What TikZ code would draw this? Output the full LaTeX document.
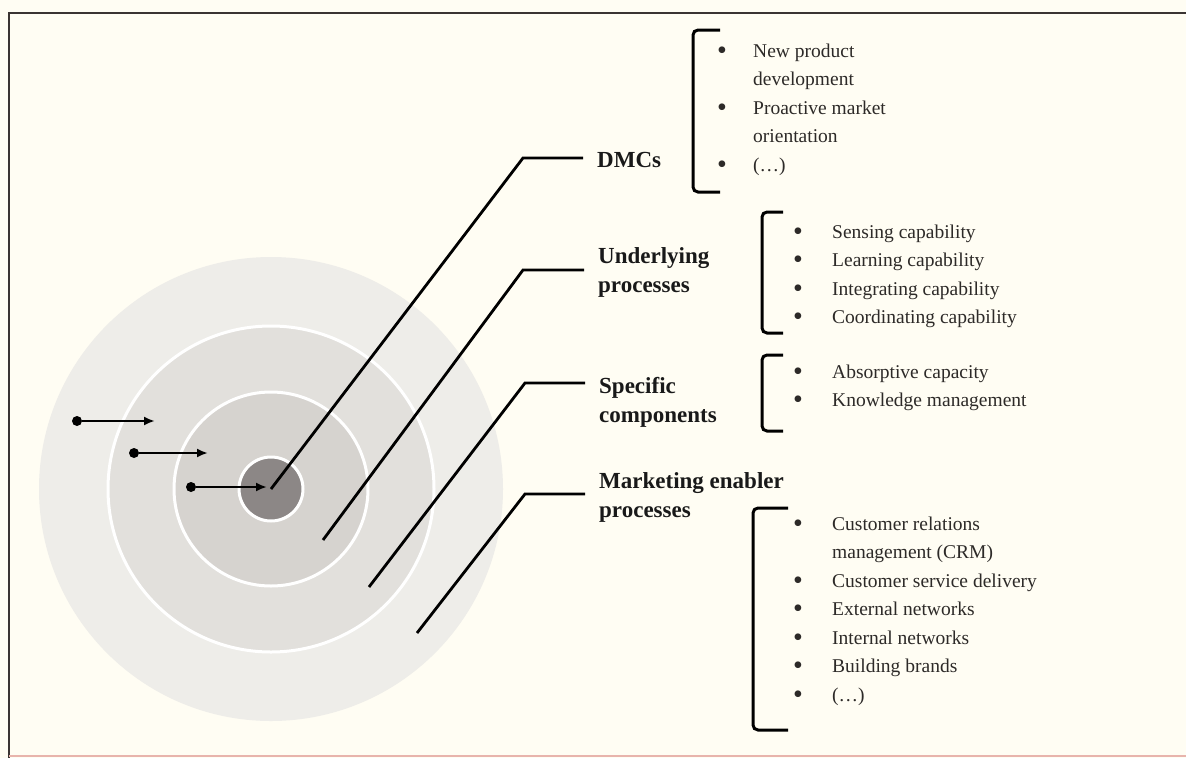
\documentclass[tikz,border=0pt]{standalone}
\usepackage{fontspec}
\setmainfont{Liberation Serif}
\usetikzlibrary{positioning,arrows.meta}

\definecolor{paper}{RGB}{255,253,243}
\definecolor{frameline}{RGB}{58,52,50}
\definecolor{edgeline}{RGB}{232,180,172}
\definecolor{ringA}{RGB}{238,237,233}
\definecolor{ringB}{RGB}{226,224,220}
\definecolor{ringC}{RGB}{214,211,207}
\definecolor{core}{RGB}{140,135,134}
\definecolor{itemtext}{RGB}{45,42,40}

\newcommand{\itemdot}{\raisebox{-2pt}{\fontsize{28}{0}\selectfont\textbullet}}

\begin{document}
\begin{tikzpicture}[
        x=1pt, y=-1pt,
        ring/.style={
                circle,
                inner sep=0pt,
                draw=white,
                line width=3pt
            },
        heading/.style={
                anchor=base west,
                inner sep=0pt,
                text=black!90,
                font=\fontsize{23}{29}\selectfont\bfseries
            },
        itemlist/.style={
                anchor=base west,
                inner sep=0pt,
                text=itemtext,
                font=\fontsize{19.5}{28.5}\selectfont
            },
        bracket/.style = {line width=3pt, rounded corners=5pt},
        leader/.style = {line width=2.8pt, shorten >=14pt},
        dot/.style = {circle, fill=black, inner sep=0pt, minimum size=10pt},
        pointer/.style = {line width=2.6pt, -{Latex[length=11pt,width=9pt]}}
    ]
    \useasboundingbox (0,0) rectangle (1186,758);
    \fill[paper] (0,0) rectangle (1186,758);
    \draw[frameline, line width=2pt] (1186,13) -- (9,13) -- (9,758);
    \draw[edgeline, line width=1.5pt] (9,756) -- (1186,756);

    % target
    \node[ring, draw=none, fill=ringA, minimum size=464pt] (outer) at (271,489) {};
    \node[ring, fill=ringB, minimum size=326pt] (middle) at (outer.center) {};
    \node[ring, fill=ringC, minimum size=194pt] (inner) at (outer.center) {};
    \node[ring, fill=core, minimum size=64pt] (core) at (outer.center) {};

    \node[dot] (d1) at (77,421) {};
    \node[dot] (d2) at (134,453) {};
    \node[dot] (d3) at (191,487) {};
    \coordinate (a1) at (155,421);
    \coordinate (a2) at (208,453);
    \coordinate (a3) at (267,487);
    \draw[pointer] (d1) -- (a1);
    \draw[pointer] (d2) -- (a2);
    \draw[pointer] (d3) -- (a3);

    % headings
    \node[heading] (dmc)   at (597,167) {DMCs};
    \node[heading] (under) at (598,263) {\begin{tabular}[t]{@{}l@{}}Underlying\\processes\end{tabular}};
    \node[heading] (spec)  at (599,393) {\begin{tabular}[t]{@{}l@{}}Specific\\components\end{tabular}};
    \node[heading] (mkt)   at (599,488) {\begin{tabular}[t]{@{}l@{}}Marketing enabler\\processes\end{tabular}};

    \coordinate (f2) at (323,540);
    \coordinate (f3) at (369,587);
    \coordinate (f4) at (417,633);
    \coordinate (k1) at (523,158);
    \coordinate (k2) at (523,270);
    \coordinate (k3) at (525,383);
    \coordinate (k4) at (525,494);
    \draw[leader] (core.center) -- (k1) -- (k1 -| dmc.west);
    \draw[leader] (f2) -- (k2) -- (k2 -| under.west);
    \draw[leader] (f3) -- (k3) -- (k3 -| spec.west);
    \draw[leader] (f4) -- (k4) -- (k4 -| mkt.west);

    % lists
    \draw[bracket] (720,30) -- (693,30) -- (693,192) -- (720,192);
    \draw[bracket] (783,212) -- (762,212) -- (762,333) -- (783,333);
    \draw[bracket] (783,355) -- (762,355) -- (762,431) -- (783,431);
    \draw[bracket] (788,508) -- (753,508) -- (753,730) -- (788,730);

    \node[itemlist] (dmclist) at (717,57) {\begin{tabular}[t]{@{}p{36pt}@{}l@{}}
        \itemdot & New product\\ & development\\
        \itemdot & Proactive market\\ & orientation\\
        \itemdot & (\dots)\end{tabular}};
    \node[itemlist] (underlist) at (793,238) {\begin{tabular}[t]{@{}p{39pt}@{}l@{}}
        \itemdot & Sensing capability\\ \itemdot & Learning capability\\
        \itemdot & Integrating capability\\ \itemdot & Coordinating capability\end{tabular}};
    \node[itemlist] (speclist) at (793,378) {\begin{tabular}[t]{@{}p{39pt}@{}l@{}}
        \itemdot & Absorptive capacity\\ \itemdot & Knowledge management\end{tabular}};
    \node[itemlist] (mktlist) at (793,530) {\begin{tabular}[t]{@{}p{39pt}@{}l@{}}
        \itemdot & Customer relations\\ & management (CRM)\\
        \itemdot & Customer service delivery\\ \itemdot & External networks\\
        \itemdot & Internal networks\\ \itemdot & Building brands\\
        \itemdot & (\dots)\end{tabular}};
\end{tikzpicture}
\end{document}
